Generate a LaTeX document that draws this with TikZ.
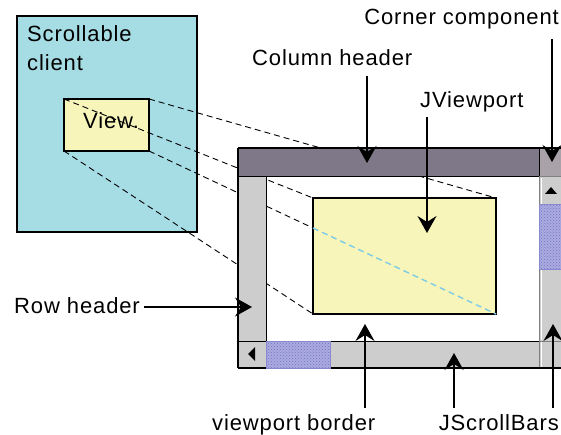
\documentclass[tikz,border=0pt]{standalone}
\usepackage{fontspec}
\setmainfont{Liberation Sans}[LetterSpace=4]
\usetikzlibrary{arrows.meta,patterns,calc}
\definecolor{clientcyan}{HTML}{A6DDE5}
\definecolor{viewyellow}{HTML}{F7F5BA}
\definecolor{headerpurple}{HTML}{7E7888}
\definecolor{cornergrey}{HTML}{A9A2A9}
\definecolor{bargrey}{HTML}{CDCDCD}
\definecolor{thumbblue}{HTML}{ABABE2}
\definecolor{thumbedge}{HTML}{8A8AD0}
\definecolor{thumbdot}{HTML}{7373BC}
\definecolor{diagcyan}{HTML}{7FCBE6}
\tikzset{
  panel/.style={draw=black, line width=1.2pt, anchor=north west, inner sep=0pt, outer sep=0pt},
  part/.style={draw=black, line width=1pt, anchor=north west, inner sep=0pt, outer sep=0pt},
  lbl/.style={anchor=base west, inner sep=0pt, font=\fontsize{22}{29}\selectfont},
  proj/.style={draw=black, line width=0.9pt, dash pattern=on 6pt off 4pt},
  callout/.style={draw=black, line width=1.3pt, -{Stealth[length=17pt, width=19pt, inset=6pt]}},
  thumb/.style={draw=thumbedge, line width=1pt, fill=thumbblue, anchor=north west, inner sep=0pt, outer sep=0pt,
    postaction={pattern=crosshatch dots, pattern color=thumbdot}},
  tri/.style={fill=black, draw=none}
}
\begin{document}
\begin{tikzpicture}[x=1pt, y=-1pt]
\useasboundingbox (0,0) rectangle (561,435);

% scrollable client and its view
\node[panel, fill=clientcyan, minimum width=180pt, minimum height=216pt] (client) at (17,16) {};
\node[lbl] (clienttxt) at (27,42) {Scrollable};
\node[lbl] (clienttxt2) at (27,71) {client};
\node[panel, fill=viewyellow, minimum width=85pt, minimum height=52pt] (view) at (64,99) {};
\node[lbl] (viewtxt) at (83,129) {View.};

% scroll pane: viewport area and the view shown in it
\node[part, fill=white, draw=none, minimum width=323pt, minimum height=220pt] (pane) at (238,148) {};
\node[panel, fill=viewyellow, minimum width=183pt, minimum height=116pt] (inner) at (313,198) {};

% projection of the view into the viewport
\coordinate (enter) at ($(view.south east)!0.4726!(inner.south east)$);
\draw[proj] (view.north east) -- (inner.north east);
\draw[proj] (view.north west) -- (inner.north west);
\draw[proj] (view.south west) -- (inner.south west);
\draw[proj] (view.south east) -- (enter);
\draw[proj, draw=diagcyan, line width=1.4pt] (enter) -- (inner.south east);

% headers, corner and scroll bars
\node[part, fill=headerpurple, minimum width=301pt, minimum height=29pt] (colhead) at (238,148) {};
\node[part, fill=cornergrey, minimum width=30pt, minimum height=29pt] (corner) at (539,148) {};
\node[part, fill=bargrey, minimum width=28pt, minimum height=164pt] (rowhead) at (238,177) {};
\node[part, fill=bargrey, draw=gray, minimum width=30pt, minimum height=164pt] (vbar) at (539,177) {};
\draw[white, line width=1pt] (541,178) -- (541,340);
\node[part, fill=bargrey, minimum width=301pt, minimum height=27pt] (hbar) at (238,341) {};
\node[part, fill=bargrey, draw=gray, minimum width=30pt, minimum height=27pt] (bottomcorner) at (539,341) {};
\draw[white, line width=1pt] (541,342) -- (541,367);
\draw[black, line width=1.2pt] (238,368) -- (561,368);
\draw[black, line width=1pt] (238,341) -- (539,341);
\draw[black, line width=1pt] (266,177) -- (266,341);
\draw[gray, line width=0.8pt] (266,342) -- (266,367);
\draw[gray, line width=0.8pt] (539,205) -- (561,205);
\node[thumb, minimum width=25pt, minimum height=64pt] (vthumb) at (539,205) {};
\node[thumb, minimum width=64pt, minimum height=27pt] (hthumb) at (266,341) {};
\draw[tri] (545,194) -- (557,194) -- (551,187) -- cycle;
\draw[tri] (255,347) -- (255,361) -- (248,354) -- cycle;
\draw[black, line width=1.2pt] (238,148) -- (561,148);
\draw[black, line width=1.2pt] (238,148) -- (238,368);

% callout labels and arrows
\node[lbl] (colheadtxt) at (252,66) {Column header};
\node[lbl, anchor=base east] (cornertxt) at (559,25) {Corner component};
\node[lbl] (viewporttxt) at (420,108) {JViewport};
\node[lbl] (rowheadtxt) at (14,313) {Row header};
\node[lbl] (bordertxt) at (212,430) {viewport border};
\node[lbl, anchor=base east] (barstxt) at (559,430) {JScrollBars};

\coordinate (colheadtip) at (367,163);
\coordinate (cornertip) at (552,162);
\coordinate (viewporttip) at (427,233);
\coordinate (rowheadtip) at (252,307);
\coordinate (bordertip) at (365,324);
\coordinate (hbartip) at (454,353);
\coordinate (vbartip) at (553,324);

\draw[callout] ($(colheadtxt.south -| colheadtip)+(0,10)$) -- (colheadtip);
\draw[callout] ($(cornertxt.south -| cornertip)+(0,9)$) -- (cornertip);
\draw[callout] ($(viewporttxt.south -| viewporttip)+(0,4)$) -- (viewporttip);
\draw[callout] ($(rowheadtxt.east |- rowheadtip)+(4,0)$) -- (rowheadtip);
\draw[callout] ($(bordertxt.north -| bordertip)+(0,-6)$) -- (bordertip);
\draw[callout] ($(barstxt.north -| hbartip)+(0,-6)$) -- (hbartip);
\draw[callout] ($(barstxt.north -| vbartip)+(0,-6)$) -- (vbartip);
\end{tikzpicture}
\end{document}
